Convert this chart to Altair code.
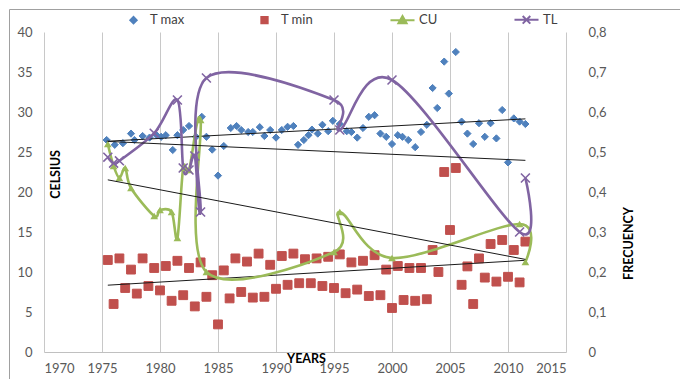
import altair as alt
import pandas as pd

# ---------------- data ----------------
tmax_years = [1975.4, 1976.1, 1976.8, 1977.5, 1977.8, 1978.5, 1979.1, 1979.7, 1980.1, 1980.5,
              1981.1, 1981.5, 1982.0, 1982.5, 1983.1, 1983.6, 1984.0, 1984.5, 1985.0, 1985.5,
              1986.1, 1986.6, 1987.0, 1987.6, 1988.0, 1988.6, 1989.0, 1989.5, 1990.0, 1990.5,
              1991.0, 1991.5, 1991.9, 1992.4, 1992.8, 1993.1, 1993.6, 1994.0, 1994.5, 1994.9,
              1995.5, 1996.1, 1996.5, 1997.0, 1997.5, 1998.0, 1998.5, 1999.0, 1999.5, 2000.0,
              2000.5, 2000.9, 2001.4, 2002.0, 2002.5, 2003.0, 2003.5, 2003.9, 2004.5, 2004.9,
              2005.5, 2006.0, 2006.5, 2007.0, 2007.5, 2008.0, 2008.5, 2009.0, 2009.5, 2010.0,
              2010.5, 2011.0, 2011.5]
tmax_vals = [26.5, 25.9, 26.1, 27.3, 26.5, 27.0, 26.8, 27.1, 26.9, 27.1,
             25.25, 27.1, 27.75, 28.25, 26.9, 29.4, 26.9, 25.3, 22.05, 25.75,
             28.0, 28.25, 27.75, 27.5, 27.5, 28.1, 27.0, 27.75, 26.8, 27.75,
             28.15, 28.25, 25.9, 26.5, 27.1, 27.8, 27.3, 28.4, 27.6, 28.9,
             28.5, 27.6, 27.5, 26.8, 28.0, 29.4, 29.6, 27.3, 26.9, 26.0,
             27.1, 26.9, 26.5, 25.6, 27.5, 28.4, 33.0, 30.5, 36.3, 32.3,
             37.5, 28.8, 27.3, 26.0, 28.6, 26.9, 28.6, 26.7, 30.25, 23.7,
             29.2, 28.8, 28.5]

tmin_years = [1975.5, 1976.0, 1976.5, 1977.0, 1977.5, 1978.0, 1978.5, 1979.0, 1979.5, 1980.0,
              1980.5, 1981.0, 1981.5, 1982.0, 1982.5, 1983.0, 1983.5, 1984.0, 1984.5, 1985.0,
              1985.5, 1986.0, 1986.5, 1987.0, 1987.5, 1988.0, 1988.5, 1989.0, 1989.5, 1990.0,
              1990.5, 1991.0, 1991.5, 1992.0, 1992.5, 1993.0, 1993.5, 1994.0, 1994.5, 1995.0,
              1995.5, 1996.0, 1996.5, 1997.0, 1997.5, 1998.0, 1998.5, 1999.0, 1999.5, 2000.0,
              2000.5, 2001.0, 2001.5, 2002.0, 2002.5, 2003.0, 2003.5, 2004.0, 2004.5, 2005.0,
              2005.5, 2006.0, 2006.5, 2007.0, 2007.5, 2008.0, 2008.5, 2009.0, 2009.5, 2010.0,
              2010.5, 2011.0, 2011.5]
tmin_vals = [11.5, 6.0, 11.7, 8.0, 10.3, 7.3, 11.7, 8.25, 10.5, 7.7,
             10.75, 6.4, 11.4, 7.1, 10.5, 5.7, 11.2, 6.9, 9.6, 3.45,
             10.2, 6.7, 11.7, 7.5, 11.3, 6.8, 12.3, 6.9, 10.9, 7.9,
             12.0, 8.4, 12.3, 8.6, 11.6, 8.6, 11.7, 8.25, 11.9, 8.0,
             12.2, 7.35, 11.2, 7.8, 11.4, 7.0, 12.1, 7.1, 10.3, 5.5,
             10.75, 6.5, 10.5, 6.4, 10.5, 6.6, 12.75, 10.0, 22.5, 15.25,
             23.0, 8.4, 10.7, 6.0, 11.7, 9.3, 13.5, 8.8, 14.0, 9.4,
             12.75, 8.7, 13.8]

cu_years = [1975.5, 1976.0, 1976.5, 1977.0, 1977.5, 1979.5, 1980.0, 1981.0, 1981.5,
            1982.0, 1982.5, 1983.5, 1984.0, 1995.0, 1995.5, 2000.0, 2011.0, 2011.5]
cu_vals = [0.52, 0.465, 0.435, 0.46, 0.41, 0.34, 0.355, 0.35, 0.285,
           0.46, 0.455, 0.58, 0.20, 0.25, 0.35, 0.235, 0.32, 0.225]

tl_years = [1975.5, 1976.0, 1976.5, 1979.5, 1981.5, 1982.0, 1982.5, 1983.0, 1983.5,
            1984.0, 1995.0, 1995.5, 2000.0, 2011.0, 2011.5]
tl_vals = [0.487, 0.472, 0.478, 0.547, 0.63, 0.46, 0.455, 0.49, 0.35,
           0.685, 0.63, 0.555, 0.68, 0.30, 0.435]

series_names = ["T max", "T min", "CU", "TL"]
series_colors = ["#4F81BD", "#C0504D", "#9BBB59", "#8064A2"]
x_ticks = [1970, 1975, 1980, 1985, 1990, 1995, 2000, 2005, 2010, 2015]
left_ticks = [0, 5, 10, 15, 20, 25, 30, 35, 40]
right_ticks = [0, 0.1, 0.2, 0.3, 0.4, 0.5, 0.6, 0.7, 0.8]

# ---------------- tables ----------------
tmax_df = pd.DataFrame({"year": tmax_years, "value": tmax_vals, "series": "T max"})
tmin_df = pd.DataFrame({"year": tmin_years, "value": tmin_vals, "series": "T min"})
temp_df = pd.concat([tmax_df, tmin_df], ignore_index=True)
cu_df = pd.DataFrame({"year": cu_years, "value": cu_vals, "series": "CU"})
tl_df = pd.DataFrame({"year": tl_years, "value": tl_vals, "series": "TL"})
freq_df = pd.concat([cu_df, tl_df], ignore_index=True)

X_PATH = "M-1,-1L1,1M-1,1L1,-1"
CU_LEG = "M-3.8,0H3.8M0,-1.3L1.3,1L-1.3,1Z"
TL_LEG = "M-3.8,0H3.8M-1.2,-1.2L1.2,1.2M-1.2,1.2L1.2,-1.2"

stroke_scale = alt.Scale(domain=series_names, range=series_colors)
fill_scale = alt.Scale(domain=series_names,
                       range=["#4F81BD", "#C0504D", "#9BBB59", "transparent"])
shape_scale = alt.Scale(domain=series_names, range=["diamond", "square", CU_LEG, TL_LEG])

NB_A = "\u00a0" * 7
NB_B = "\u00a0" * 6
legend = alt.Legend(title=None, orient="none", legendX=83, legendY=-19,
                    direction="horizontal", symbolSize=40, symbolStrokeWidth=2,
                    labelFont="Lato", labelFontSize=13, labelColor="#404040",
                    columnPadding=72, labelOffset=10,
                    labelExpr=(f"datum.label == 'T max' ? datum.label + '{NB_A}' : "
                               f"(datum.label == 'CU' ? datum.label + '{NB_B}' : datum.label)"))

x_enc = alt.X("year:Q",
              scale=alt.Scale(domain=[1970, 2015], nice=False, zero=False),
              axis=alt.Axis(values=x_ticks, format="d", title="YEARS", grid=True,
                            gridColor="#c8c8c8", ticks=False, domainColor="#c0c0c0",
                            labelPadding=10, titleX=262, titleY=6,
                            titleAlign="center", titleBaseline="middle"))

y_left = alt.Y("value:Q",
               scale=alt.Scale(domain=[0, 40], nice=False),
               axis=alt.Axis(values=left_ticks, title="CELSIUS", grid=False, domain=False,
                             ticks=False, labelPadding=12, titleX=11, titleY=142,
                             titleAngle=270, titleAlign="center", titleBaseline="middle"))

y_right = alt.Y("value:Q",
                scale=alt.Scale(domain=[0, 0.8], nice=False),
                axis=alt.Axis(values=right_ticks, orient="right", title="FRECUENCY",
                              grid=False, domain=False, ticks=False, labelPadding=22,
                              labelExpr="datum.value == 0 ? '0' : replace(format(datum.value, '.1f'), '.', ',')",
                              titleX=62, titleY=211, titleAngle=270,
                              titleAlign="center", titleBaseline="middle"))

frame = alt.Chart(alt.Data(values=[{"k": 1}])).mark_rect(
    fill="transparent", stroke="#a0a0a0", strokeWidth=1
).encode(x=alt.value(-34.5), x2=alt.value(760), y=alt.value(-22.5), y2=alt.value(460))

tmax_pts = alt.Chart(tmax_df).mark_point(filled=False, opacity=1, strokeWidth=1, size=52).encode(
    x=x_enc, y=y_left,
    stroke=alt.Stroke("series:N", scale=stroke_scale, legend=legend),
    fill=alt.Fill("series:N", scale=fill_scale, legend=legend),
    shape=alt.Shape("series:N", scale=shape_scale, legend=legend),
)
tmin_pts = alt.Chart(tmin_df).mark_point(filled=False, opacity=1, strokeWidth=1, size=78).encode(
    x=x_enc, y=y_left,
    stroke=alt.Stroke("series:N", scale=stroke_scale, legend=legend),
    fill=alt.Fill("series:N", scale=fill_scale, legend=legend),
    shape=alt.Shape("series:N", scale=shape_scale, legend=legend),
)
temp_trend = alt.Chart(temp_df).transform_regression(
    "year", "value", groupby=["series"]
).mark_line(color="#1a1a1a", strokeWidth=1).encode(x=x_enc, y=y_left, detail="series:N")

left = alt.layer(frame, tmax_pts, tmin_pts, temp_trend)

freq_lines = alt.Chart(freq_df).mark_line(interpolate="cardinal", strokeWidth=2.6).encode(
    x=x_enc, y=y_right,
    stroke=alt.Stroke("series:N", scale=stroke_scale, legend=None),
)
cu_pts = alt.Chart(cu_df).mark_point(filled=True, opacity=1, shape="triangle-up", size=60).encode(
    x=x_enc, y=y_right,
    fill=alt.Fill("series:N", scale=fill_scale, legend=None),
)
tl_pts = alt.Chart(tl_df).mark_point(filled=False, opacity=1, shape=X_PATH, size=80, strokeWidth=1.6).encode(
    x=x_enc, y=y_right,
    stroke=alt.Stroke("series:N", scale=stroke_scale, legend=None),
)
freq_trend = alt.Chart(freq_df).transform_regression(
    "year", "value", groupby=["series"]
).mark_line(color="#1a1a1a", strokeWidth=1).encode(x=x_enc, y=y_right, detail="series:N")

right = alt.layer(freq_lines, cu_pts, tl_pts, freq_trend)

chart = alt.layer(left, right).resolve_scale(y="independent").properties(
    width=522, height=320,
    autosize=alt.AutoSizeParams(type="none"),
    padding={"left": 44, "top": 32, "right": 114, "bottom": 27},
).configure(font="Lato").configure_view(stroke=None).configure_axis(
    labelFont="Lato", labelFontSize=13, labelColor="#595959",
    titleFont="Lato", titleFontSize=12.5, titleFontWeight="bold", titleColor="#000000",
)

chart.save("out.html", embed_options={"renderer": "svg", "actions": False})
